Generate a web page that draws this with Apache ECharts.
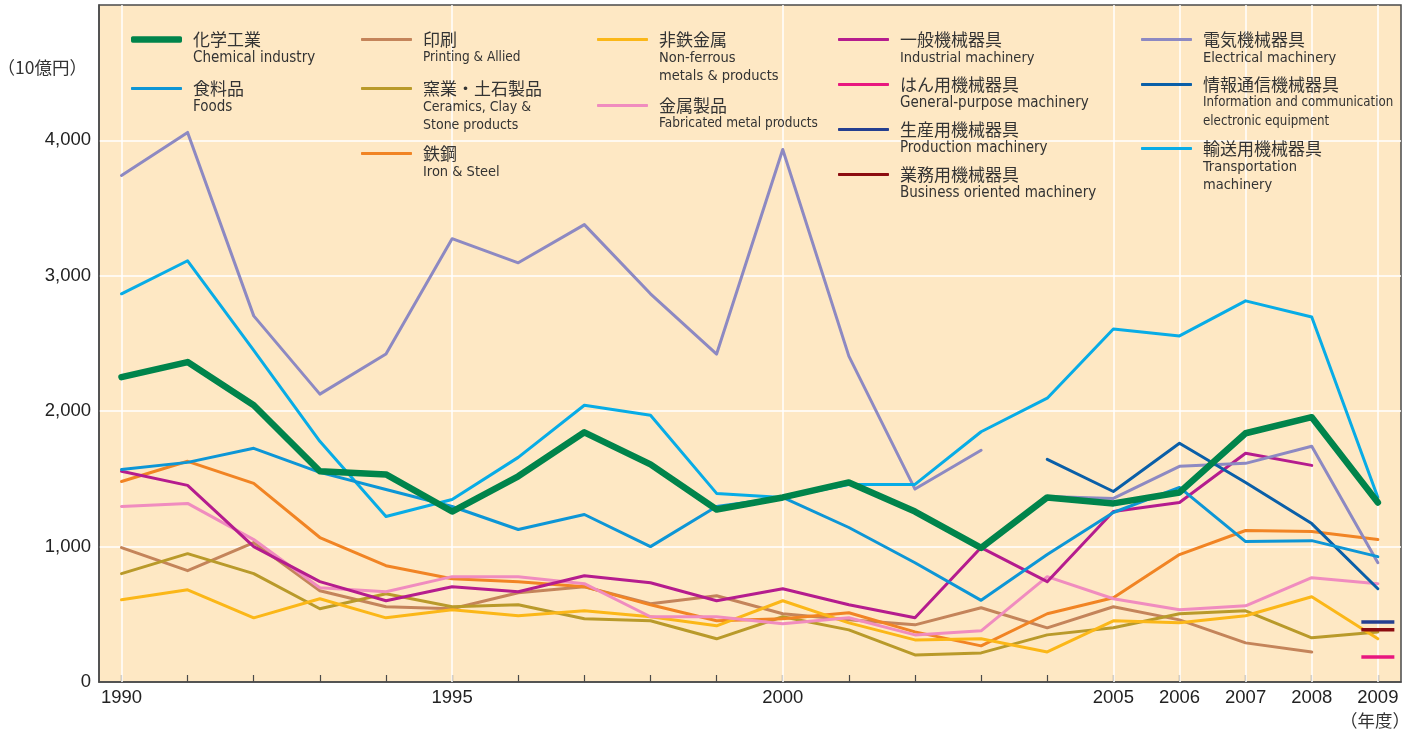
<!DOCTYPE html>
<html>
<head>
<meta charset="utf-8">
<script src="https://cdn.jsdelivr.net/npm/echarts@6/dist/echarts.min.js"></script>
<style>
  html, body { margin: 0; padding: 0; background: #fff; }
  #chart { width: 1414px; height: 731px; }
</style>
</head>
<body>
<div id="chart"></div>
<script>
// 年度
const years = [1990, 1991, 1992, 1993, 1994, 1995, 1996, 1997, 1998, 1999,
  2000, 2001, 2002, 2003, 2004, 2005, 2006, 2007, 2008, 2009]
const labelYears = [1990, 1995, 2000, 2005, 2006, 2007, 2008, 2009]

// 単位：10億円
const chemical = [2252, 2363, 2044, 1556, 1533, 1259, 1519, 1844, 1607, 1274, 1363, 1474, 1259, 990, 1363, 1319, 1400, 1837, 1956, 1326]
const foods = [1570, 1622, 1726, 1548, 1422, 1296, 1126, 1237, 1000, 1296, 1363, 1141, 881, 603, 941, 1252, 1437, 1037, 1044, 926]
const printing = [993, 822, 1030, 674, 556, 541, 659, 704, 578, 637, 504, 459, 422, 548, 400, 556, 459, 289, 222, null]
const ceramics = [800, 948, 800, 541, 652, 556, 570, 467, 452, 319, 482, 385, 200, 215, 348, 400, 504, 526, 326, 370]
const ironSteel = [1481, 1630, 1467, 1067, 859, 763, 741, 704, 570, 452, 467, 511, 370, 267, 504, 622, 941, 1119, 1111, 1052]
const nonFerrous = [607, 681, 474, 615, 474, 533, 489, 526, 482, 415, 600, 437, 311, 319, 222, 452, 437, 489, 630, 319]
const fabricated = [1296, 1319, 1052, 696, 667, 778, 778, 726, 482, 482, 430, 474, 348, 378, 778, 615, 533, 563, 770, 726]
const industrial = [1556, 1452, 1000, 741, 600, 704, 667, 785, 733, 600, 689, 570, 474, 993, 741, 1259, 1326, 1689, 1600, null]
const generalPurpose = [null, null, null, null, null, null, null, null, null, null, null, null, null, null, null, null, null, null, null, 185]
const production = [null, null, null, null, null, null, null, null, null, null, null, null, null, null, null, null, null, null, null, 444]
const business = [null, null, null, null, null, null, null, null, null, null, null, null, null, null, null, null, null, null, null, 385]
const electrical = [3741, 4059, 2704, 2126, 2422, 3274, 3096, 3378, 2867, 2422, 3933, 2407, 1425, 1711, 1370, 1356, 1593, 1615, 1741, 881]
const infoComm = [null, null, null, null, null, null, null, null, null, null, null, null, null, null, 1644, 1407, 1763, 1474, 1170, 689]
const transport = [2867, 3111, 2450, 1778, 1222, 1348, 1659, 2044, 1970, 1393, 1363, 1459, 1459, 1848, 2096, 2607, 2556, 2815, 2696, 1363]

// 2003→2004 で電気機械器具の分類が変わり線が切れる
const electricalBreak = 2003.5

const jaFont = '"Noto Sans CJK JP", sans-serif'
const enFont = '"Liberation Sans Narrow", "DejaVu Sans Condensed", sans-serif'
const numFont = '"Liberation Sans", Arial, sans-serif'
const textColor = '#333'
const lh = 18.5
const jaSize = 17

function toPairs(values, breakAt) {
  const out = []
  values.forEach((v, i) => {
    if (breakAt !== undefined && years[i] > breakAt && years[i - 1] < breakAt) out.push([breakAt, null])
    out.push([years[i], v])
  })
  return out
}

// legend x = icon left, legend y = icon center, enSize = english font size
const items = [
  { name: '印刷', en: ['Printing & Allied'], enSize: 13.5, color: '#c4845a', data: printing, x: 361, y: 39 },
  { name: '窯業・土石製品', en: ['Ceramics, Clay &', 'Stone products'], enSize: 14, color: '#b99a2a', data: ceramics, x: 361, y: 88 },
  { name: '鉄鋼', en: ['Iron & Steel'], enSize: 14.5, color: '#f18424', data: ironSteel, x: 361, y: 153 },
  { name: '非鉄金属', en: ['Non-ferrous', 'metals & products'], enSize: 14.5, color: '#fbb718', data: nonFerrous, x: 597, y: 39 },
  { name: '金属製品', en: ['Fabricated metal products'], enSize: 13.5, color: '#f08cbf', data: fabricated, x: 597, y: 105 },
  { name: '一般機械器具', en: ['Industrial machinery'], enSize: 14.5, color: '#b51c8e', data: industrial, x: 838, y: 39 },
  { name: 'はん用機械器具', en: ['General-purpose machinery'], enSize: 15, color: '#e8177f', data: generalPurpose, x: 838, y: 84, dash: true },
  { name: '生産用機械器具', en: ['Production machinery'], enSize: 15, color: '#253f90', data: production, x: 838, y: 129, dash: true },
  { name: '業務用機械器具', en: ['Business oriented machinery'], enSize: 15, color: '#8c0c10', data: business, x: 838, y: 174, dash: true },
  { name: '電気機械器具', en: ['Electrical machinery'], enSize: 14.5, color: '#8d89c2', data: electrical, x: 1141, y: 39, breakAt: electricalBreak },
  { name: '情報通信機械器具', en: ['Information and communication', 'electronic equipment'], enSize: 13.2, color: '#0a5fa8', data: infoComm, x: 1141, y: 84 },
  { name: '輸送用機械器具', en: ['Transportation', 'machinery'], enSize: 14.5, color: '#08ace6', data: transport, x: 1141, y: 148 },
  { name: '食料品', en: ['Foods'], enSize: 15, color: '#0d96d6', data: foods, x: 131, y: 88 },
  { name: '化学工業', en: ['Chemical industry'], enSize: 15, color: '#00844b', data: chemical, x: 131, y: 39, width: 6.5 }
]

const series = [{
  type: 'line',
  data: [],
  z: 1,
  silent: true,
  markLine: {
    z: 1,
    silent: true,
    symbol: 'none',
    label: { show: false },
    lineStyle: { color: '#ffffff', width: 1.5, type: 'solid' },
    data: labelYears.map(y => ({ xAxis: y }))
  }
}]

items.forEach(it => {
  if (it.dash) {
    // 2009年度のみの新分類は短い横棒で示す
    series.push({
      name: it.name,
      type: 'scatter',
      data: toPairs(it.data),
      z: 4,
      symbol: 'rect',
      symbolSize: [33, 3.5],
      itemStyle: { color: it.color, opacity: 1 }
    })
    return
  }
  series.push({
    name: it.name,
    type: 'line',
    data: toPairs(it.data, it.breakAt),
    z: it.width ? 4 : 3,
    lineStyle: { color: it.color, width: it.width || 3, cap: 'round', join: 'round' },
    itemStyle: { color: it.color },
    symbol: 'none'
  })
})

const legends = items.map(it => {
  const n = 1 + it.en.length
  const pad = (n - 1) * lh
  const text = ['{ja|' + it.name + '}'].concat(it.en.map(e => '{en|' + e + '}')).join('\n')
  return {
    data: [it.name],
    left: it.x,
    top: it.y - 8,
    orient: 'vertical',
    padding: 0,
    icon: 'roundRect',
    itemWidth: 51,
    itemHeight: it.width || 3,
    selectedMode: false,
    z: 6,
    formatter: () => text,
    textStyle: {
      padding: [pad, 0, 0, 6],
      rich: {
        ja: { fontFamily: jaFont, fontSize: jaSize, lineHeight: lh, color: textColor },
        en: { fontFamily: enFont, fontSize: it.enSize, lineHeight: lh, color: textColor }
      }
    }
  }
})

const chart = echarts.init(document.getElementById('chart'))
chart.setOption({
  animation: false,
  backgroundColor: '#ffffff',
  title: [
    { text: '（10億円）', left: -2.5, top: 59, padding: 0, textStyle: { fontFamily: jaFont, fontSize: 17.5, fontWeight: 'normal', color: textColor } },
    { text: '（年度）', left: 1340, top: 712, padding: 0, textStyle: { fontFamily: jaFont, fontSize: 17.5, fontWeight: 'normal', color: textColor } }
  ],
  legend: legends,
  grid: {
    left: 99, right: 13, top: 5, bottom: 49,
    show: true,
    backgroundColor: '#fee8c4',
    borderColor: '#4a4a4a',
    borderWidth: 1.5
  },
  xAxis: {
    type: 'value',
    min: 1989.66,
    max: 2009.35,
    axisLine: { show: true, lineStyle: { color: '#4a4a4a', width: 1.5 } },
    axisTick: { show: true, inside: true, length: 7, customValues: years, lineStyle: { color: '#4a4a4a', width: 1.2 } },
    axisLabel: {
      customValues: labelYears,
      formatter: v => String(v),
      fontFamily: numFont, fontSize: 18.5, color: '#222', margin: 6
    },
    splitLine: { show: false }
  },
  yAxis: {
    type: 'value',
    min: 0,
    max: 5000,
    interval: 1000,
    axisLine: { show: true, lineStyle: { color: '#4a4a4a', width: 1.5 } },
    axisTick: { show: false },
    axisLabel: {
      formatter: v => (v >= 5000 ? '' : v.toLocaleString('en-US')),
      fontFamily: numFont, fontSize: 18.5, color: '#222', margin: 8
    },
    splitLine: { show: true, showMinLine: false, showMaxLine: false, lineStyle: { color: '#ffffff', width: 1.5 } }
  },
  series: series
})
</script>
</body>
</html>
